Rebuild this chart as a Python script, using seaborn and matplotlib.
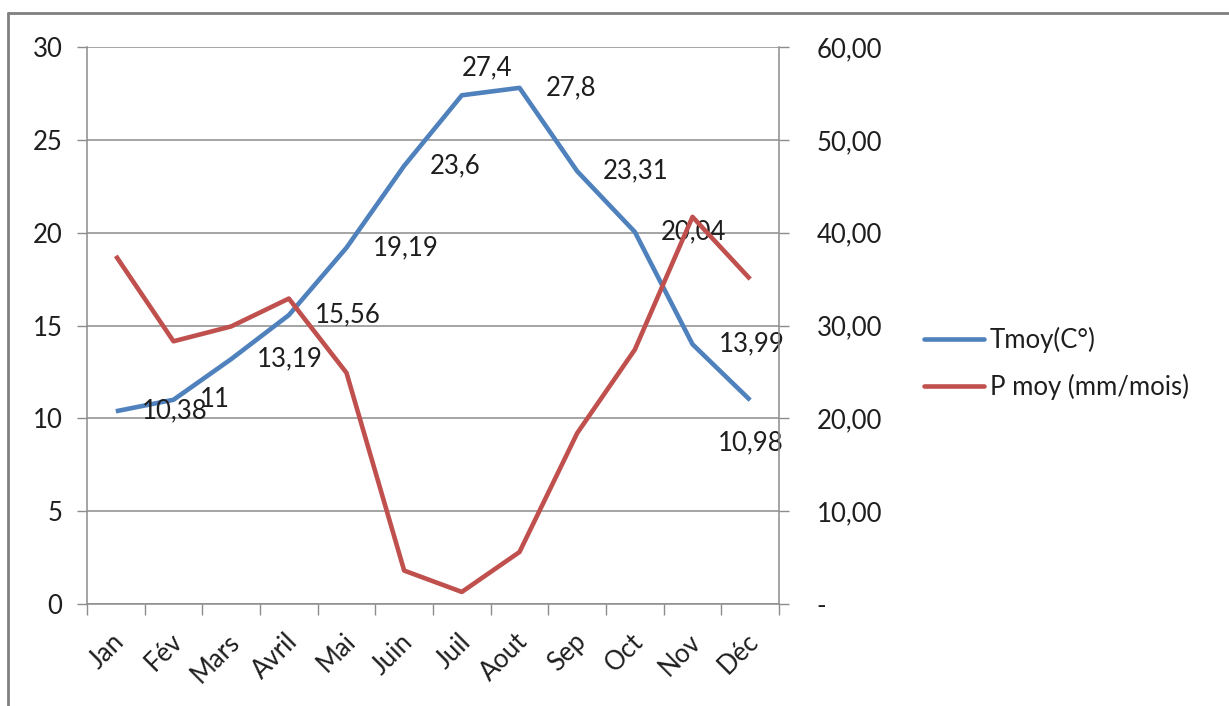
import numpy as np
import pandas as pd
import matplotlib
matplotlib.use("Agg")
import matplotlib.pyplot as plt
import matplotlib.transforms as mtransforms
from matplotlib.ticker import FixedLocator, FuncFormatter
from matplotlib.lines import Line2D
import seaborn as sns

# Monthly climate data
months = ["Jan", "Fév", "Mars", "Avril", "Mai", "Juin", "Juil", "Aout", "Sep", "Oct", "Nov", "Déc"]
tmoy = [10.38, 11, 13.19, 15.56, 19.19, 23.6, 27.4, 27.8, 23.31, 20.04, 13.99, 10.98]
pmoy = [37.5, 28.3, 29.9, 32.9, 24.9, 3.6, 1.3, 5.6, 18.4, 27.4, 41.7, 35.0]
temp_labels = ["10,38", "11", "13,19", "15,56", "19,19", "23,6", "27,4", "27,8", "23,31", "20,04", "13,99", "10,98"]

series_names = ["Tmoy(C°)", "P moy (mm/mois)"]

sns.set_style("white")
plt.rcParams["font.family"] = ["Lato", "DejaVu Sans"]

BLUE = "#4F81BD"
RED = "#C0504D"
GRID = "#8C8C8C"
TEXT = "#1E1E1E"
FS = 18.5
LW = 3.3

W, H = 1229, 706
fig = plt.figure(figsize=(W / 100, H / 100), dpi=100)
fig.patch.set_facecolor("white")

# plot area in pixel coordinates
x0, x1, y_top, y_bot = 87, 779, 47, 604
ax = fig.add_axes([x0 / W, 1 - y_bot / H, (x1 - x0) / W, (y_bot - y_top) / H])
ax2 = ax.twinx()

df = pd.DataFrame({"idx": np.arange(len(months)), "month": months,
                   "tmoy": tmoy, "pmoy": pmoy})

sns.lineplot(data=df, x="idx", y="tmoy", ax=ax, color=BLUE, lw=LW,
             solid_joinstyle="round", solid_capstyle="butt", legend=False)
sns.lineplot(data=df, x="idx", y="pmoy", ax=ax2, color=RED, lw=LW,
             solid_joinstyle="round", solid_capstyle="butt", legend=False)

ax.set_xlim(-0.5, len(months) - 0.5)
ax.set_ylim(0, 30)
ax2.set_ylim(0, 60)
ax.set_xlabel("")
ax.set_ylabel("")
ax2.set_ylabel("")

# left axis
ax.set_yticks(np.arange(0, 31, 5))
ax.set_yticklabels([str(v) for v in range(0, 31, 5)])
ax.tick_params(axis="y", which="major", length=7.2, width=1.0, color=GRID,
               pad=10.5, labelsize=FS, labelcolor=TEXT, left=True)
ax.yaxis.grid(True, color=GRID, lw=1.1)
ax.set_axisbelow(True)

# right axis
ax2.yaxis.set_major_locator(FixedLocator(np.arange(0, 61, 10)))
ax2.yaxis.set_major_formatter(FuncFormatter(
    lambda v, p: "-" if v == 0 else f"{v:.2f}".replace(".", ",")))
ax2.tick_params(axis="y", which="major", length=7.2, width=1.0, color=GRID,
                pad=20, labelsize=FS, labelcolor=TEXT, right=True)

# category axis: ticks on boundaries, labels in the middle
ax.set_xticks(np.arange(len(months)))
ax.set_xticklabels(months, rotation=45, ha="right", va="top",
                   rotation_mode="anchor")
ax.xaxis.set_minor_locator(FixedLocator(np.arange(-0.5, len(months), 1.0)))
ax.tick_params(axis="x", which="major", length=0, pad=18, labelsize=FS,
               labelcolor=TEXT)
ax.tick_params(axis="x", which="minor", length=8, width=1.0, color=GRID,
               bottom=True)
shift = mtransforms.ScaledTranslation(-4 / 100, 0, fig.dpi_scale_trans)
for lab in ax.get_xticklabels():
    lab.set_transform(lab.get_transform() + shift)

for a in (ax, ax2):
    for side in ("top", "right", "left", "bottom"):
        a.spines[side].set_visible(False)
ax.spines["left"].set_visible(True)
ax.spines["bottom"].set_visible(True)
ax2.spines["right"].set_visible(True)
for sp in (ax.spines["left"], ax.spines["bottom"], ax2.spines["right"]):
    sp.set_color(GRID)
    sp.set_linewidth(1.1)

# value labels for the temperature series (offsets in pixels)
offsets = {6: (0, 27, "left"), 11: (-32, -43, "left")}
for i, (v, txt) in enumerate(zip(tmoy, temp_labels)):
    dx, dy, ha = offsets.get(i, (26, 0, "left"))
    ax.annotate(txt, xy=(i, v), xytext=(dx * 0.72, dy * 0.72),
                textcoords="offset points", ha=ha, va="center",
                fontsize=FS, color=TEXT, zorder=5)

# legend
handles = [Line2D([], [], color=BLUE, lw=LW), Line2D([], [], color=RED, lw=LW)]
fig.legend(handles, series_names, loc="center left",
           bbox_to_anchor=(924 / W, 1 - 363.5 / H), frameon=False,
           fontsize=FS, handlelength=2.35, handletextpad=0.2,
           labelspacing=0.78, borderpad=0, borderaxespad=0,
           labelcolor=TEXT)

# outer chart border (top and left edges)
fig.add_artist(Line2D([8 / W, 1.0], [1 - 13 / H, 1 - 13 / H],
                      transform=fig.transFigure, color="#808080", lw=2.0))
fig.add_artist(Line2D([8 / W, 8 / W], [1 - 13 / H, 0.0],
                      transform=fig.transFigure, color="#808080", lw=2.0))

fig.savefig("out.png", dpi=100, facecolor="white")
